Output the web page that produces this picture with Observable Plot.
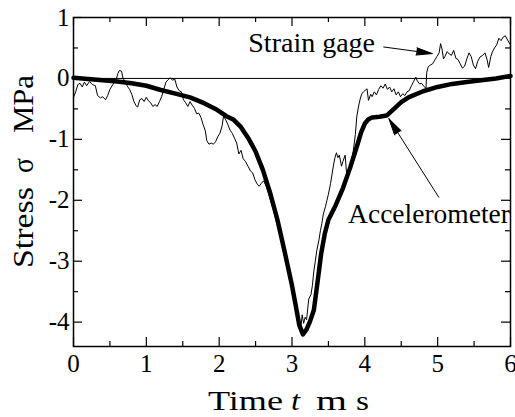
<!DOCTYPE html>
<html>
<head>
<meta charset="utf-8">
<script src="https://cdn.jsdelivr.net/npm/d3@7"></script>
<script src="https://cdn.jsdelivr.net/npm/@observablehq/plot@0.6"></script>
<style>
  html, body { margin: 0; padding: 0; background: #fff; }
  #chart svg { display: block; }
  #chart svg text { font-family: "Liberation Serif", "Times New Roman", Times, serif !important; }
</style>
</head>
<body>
<div id="chart"></div>
<script>
// ---------- data ----------
const accelTime = [0, 0.2, 0.4, 0.6, 0.8, 1.0, 1.2, 1.4, 1.6, 1.8, 1.95, 2.1, 2.2, 2.3, 2.4, 2.5, 2.6, 2.7, 2.8, 2.9,
  3.0, 3.05, 3.1, 3.15, 3.2, 3.25, 3.3, 3.35, 3.4, 3.45, 3.5, 3.6, 3.7, 3.8, 3.9, 3.95, 4.0, 4.05, 4.1, 4.2,
  4.3, 4.4, 4.5, 4.6, 4.8, 5.0, 5.2, 5.4, 5.6, 5.8, 6.0];
const accelStress = [0.01, -0.01, -0.03, -0.05, -0.08, -0.12, -0.19, -0.25, -0.31, -0.41, -0.50, -0.62, -0.68, -0.80, -0.98, -1.20, -1.50, -1.88, -2.32, -2.85,
  -3.40, -3.72, -4.05, -4.20, -4.12, -3.98, -3.80, -3.35, -2.88, -2.55, -2.32, -2.08, -1.80, -1.46, -1.08, -0.88, -0.74, -0.67, -0.64, -0.63,
  -0.61, -0.50, -0.39, -0.31, -0.21, -0.14, -0.09, -0.06, -0.03, 0.00, 0.04];

const gageTime = [0.00, 0.03, 0.06, 0.09, 0.12, 0.15, 0.18, 0.22, 0.26, 0.30, 0.33, 0.37, 0.40, 0.44, 0.47, 0.50, 0.54, 0.58, 0.61, 0.63,
  0.66, 0.68, 0.71, 0.74, 0.77, 0.80, 0.83, 0.86, 0.88, 0.91, 0.94, 0.97, 1.00, 1.03, 1.06, 1.09, 1.12, 1.15, 1.18, 1.21,
  1.24, 1.27, 1.30, 1.33, 1.36, 1.39, 1.42, 1.45, 1.48, 1.51, 1.54, 1.57, 1.60, 1.63, 1.66, 1.69, 1.72, 1.75, 1.78, 1.81,
  1.83, 1.86, 1.89, 1.92, 1.95, 1.98, 2.01, 2.04, 2.06, 2.09, 2.12, 2.15, 2.18, 2.21, 2.24, 2.27, 2.30, 2.33, 2.36, 2.40,
  2.43, 2.46, 2.49, 2.52, 2.55, 2.58, 2.61, 2.65, 2.70, 2.75, 2.80, 2.85, 2.90, 2.95, 3.00, 3.05, 3.09, 3.12, 3.14, 3.16,
  3.18, 3.20, 3.23, 3.26, 3.28, 3.30, 3.32, 3.34, 3.37, 3.39, 3.41, 3.43, 3.46, 3.48, 3.50, 3.53, 3.55, 3.57, 3.59, 3.61,
  3.63, 3.65, 3.68, 3.70, 3.73, 3.75, 3.78, 3.81, 3.84, 3.87, 3.89, 3.92, 3.94, 3.96, 3.98, 4.00, 4.03, 4.05, 4.08, 4.10,
  4.13, 4.16, 4.19, 4.22, 4.25, 4.28, 4.31, 4.34, 4.37, 4.40, 4.43, 4.46, 4.49, 4.52, 4.55, 4.58, 4.61, 4.64, 4.67, 4.70,
  4.72, 4.75, 4.78, 4.81, 4.84, 4.85, 4.87, 4.90, 4.93, 4.96, 4.99, 5.02, 5.04, 5.06, 5.08, 5.10, 5.13, 5.16, 5.19, 5.22,
  5.25, 5.28, 5.31, 5.34, 5.37, 5.40, 5.43, 5.46, 5.49, 5.52, 5.55, 5.58, 5.62, 5.65, 5.68, 5.70, 5.73, 5.75, 5.78, 5.81,
  5.84, 5.87, 5.90, 5.93, 5.96, 6.00];
const gageStress = [-0.31, -0.22, -0.10, -0.08, -0.14, -0.06, -0.12, -0.05, -0.10, -0.12, -0.28, -0.32, -0.30, -0.35, -0.28, -0.18, -0.10, -0.04, 0.08, 0.13,
  0.12, 0.00, -0.05, -0.13, -0.18, -0.26, -0.38, -0.45, -0.47, -0.35, -0.33, -0.38, -0.31, -0.37, -0.40, -0.46, -0.43, -0.46, -0.38, -0.30,
  -0.18, -0.06, -0.02, 0.01, -0.03, -0.01, -0.14, -0.20, -0.22, -0.35, -0.40, -0.46, -0.38, -0.44, -0.49, -0.58, -0.57, -0.64, -0.76, -0.86,
  -1.02, -1.08, -1.06, -1.08, -1.04, -0.96, -0.90, -0.78, -0.62, -0.68, -0.76, -0.85, -0.90, -0.98, -1.06, -1.24, -1.18, -1.32, -1.36, -1.45,
  -1.52, -1.55, -1.66, -1.73, -1.77, -1.72, -1.68, -1.78, -1.98, -2.18, -2.42, -2.62, -2.90, -3.18, -3.45, -3.75, -3.95, -4.10, -3.88, -4.02,
  -3.92, -3.96, -3.62, -3.55, -3.40, -3.16, -3.00, -2.83, -2.65, -2.50, -2.38, -2.23, -2.10, -2.00, -1.90, -1.72, -1.57, -1.42, -1.30, -1.22,
  -1.30, -1.26, -1.44, -1.36, -1.26, -1.57, -1.50, -1.40, -1.20, -0.92, -0.62, -0.42, -0.32, -0.25, -0.22, -0.20, -0.17, -0.36, -0.26, -0.30,
  -0.22, -0.27, -0.18, -0.12, -0.16, -0.09, -0.18, -0.14, -0.22, -0.17, -0.27, -0.22, -0.30, -0.25, -0.28, -0.22, -0.20, -0.12, -0.05, 0.02,
  -0.04, -0.09, -0.08, -0.13, -0.16, 0.10, 0.19, 0.22, 0.24, 0.30, 0.36, 0.42, 0.57, 0.48, 0.32, 0.36, 0.44, 0.40, 0.38, 0.46,
  0.33, 0.31, 0.24, 0.17, 0.20, 0.32, 0.42, 0.36, 0.22, 0.16, 0.28, 0.35, 0.38, 0.42, 0.30, 0.18, 0.36, 0.43, 0.50, 0.55,
  0.66, 0.62, 0.68, 0.70, 0.63, 0.55];

const xMajor = [0, 1, 2, 3, 4, 5, 6];
const xMinor = [0.5, 1.5, 2.5, 3.5, 4.5, 5.5];
const xTickLabels = ["0", "1", "2", "3", "4", "5", "6"];
const yMajor = [1, 0, -1, -2, -3, -4];
const yMinor = [0.5, -0.5, -1.5, -2.5, -3.5];
const yTickLabels = ["1", "0", "-1", "-2", "-3", "-4"];

const labelNames = ["Strain gage", "Accelerometer"];
const labelTime = [2.40, 3.77];
const labelStress = [0.43, -2.38];
const arrowFromTime = [4.26, 5.015];
const arrowFromStress = [0.516, -1.95];
const arrowToTime = [4.925, 4.33];
const arrowToStress = [0.408, -0.66];

// ---------- build tables ----------
const accel = accelTime.map((t, i) => ({t, s: accelStress[i]}));
const gage = gageTime.map((t, i) => ({t, s: gageStress[i]}));
const labels = labelNames.map((name, i) => ({name, t: labelTime[i], s: labelStress[i]}));
const arrows = arrowFromTime.map((t, i) => ({t1: t, s1: arrowFromStress[i], t2: arrowToTime[i], s2: arrowToStress[i]}));

const W = 515, H = 417, mL = 73, mR = 5, mT = 17, mB = 71;
const fw = W - mL - mR, fh = H - mT - mB;
const majorLen = 9, minorLen = 5;

const chart = Plot.plot({
  width: W, height: H,
  marginLeft: mL, marginRight: mR, marginTop: mT, marginBottom: mB,
  x: {domain: [0, 6]},
  y: {domain: [-4.4, 1]},
  style: {background: "white", color: "black"},
  marks: [
    Plot.ruleY([0], {stroke: "black", strokeWidth: 1}),
    Plot.line(gage, {x: "t", y: "s", stroke: "black", strokeWidth: 1, strokeLinejoin: "round"}),
    Plot.line(accel, {x: "t", y: "s", stroke: "black", strokeWidth: 4.5, strokeLinejoin: "round", strokeLinecap: "round"}),
    Plot.frame({stroke: "black", strokeWidth: 1.5}),
    // inward ticks on all four sides
    Plot.ruleX(xMajor, {insetTop: fh - majorLen, stroke: "black", strokeWidth: 1.2}),
    Plot.ruleX(xMajor, {insetBottom: fh - majorLen, stroke: "black", strokeWidth: 1.2}),
    Plot.ruleX(xMinor, {insetTop: fh - minorLen, stroke: "black", strokeWidth: 1.2}),
    Plot.ruleX(xMinor, {insetBottom: fh - minorLen, stroke: "black", strokeWidth: 1.2}),
    Plot.ruleY(yMajor, {insetRight: fw - majorLen, stroke: "black", strokeWidth: 1.2}),
    Plot.ruleY(yMajor, {insetLeft: fw - majorLen, stroke: "black", strokeWidth: 1.2}),
    Plot.ruleY(yMinor, {insetRight: fw - minorLen, stroke: "black", strokeWidth: 1.2}),
    Plot.ruleY(yMinor, {insetLeft: fw - minorLen, stroke: "black", strokeWidth: 1.2}),
    Plot.axisX({ticks: xMajor, tickSize: 0, tickPadding: 8, fontSize: 25,
      tickFormat: d => xTickLabels[xMajor.indexOf(d)], label: null}),
    Plot.axisY({ticks: yMajor, tickSize: 0, tickPadding: 4, fontSize: 25,
      tickFormat: d => yTickLabels[yMajor.indexOf(d)], label: null}),
    Plot.text(labels.slice(0, 1), {x: "t", y: "s", text: "name", textAnchor: "start", lineAnchor: "bottom",
      fontSize: 28, fill: "black"}),
    Plot.text(labels.slice(1), {x: "t", y: "s", text: "name", textAnchor: "start", lineAnchor: "bottom",
      fontSize: 27.5, fill: "black"}),
    Plot.arrow(arrows, {x1: "t1", y1: "s1", x2: "t2", y2: "s2", stroke: "black", fill: "black",
      strokeWidth: 1, headLength: 26, headAngle: 26})
  ]
});

document.getElementById("chart").appendChild(chart);

// axis titles (mixed upright / italic text)
const svg = d3.select(chart);
const gx = svg.append("g").attr("font-size", 27).attr("fill", "black").attr("text-anchor", "start");
[["Time", 208, 75, "normal"], ["t", 291, 9, "italic"], ["m", 316, 31, "normal"], ["s", 356, 13, "normal"]]
  .forEach(([txt, x, len, st]) => {
    gx.append("text").attr("x", x).attr("y", 410).attr("font-style", st).attr("text-anchor", "start")
      .attr("textLength", len).attr("lengthAdjust", "spacingAndGlyphs").text(txt);
  });
const gy = svg.append("g").attr("font-size", 29).attr("fill", "black").attr("text-anchor", "start");
[["Stress", 268, 81], ["σ", 173, 15], ["MPa", 133, 58]].forEach(([txt, y, len]) => {
  gy.append("text").attr("transform", `translate(33,${y}) rotate(-90)`).attr("text-anchor", "start")
    .attr("textLength", len).attr("lengthAdjust", "spacingAndGlyphs").text(txt);
});
svg.selectAll("text").style("font-family", "'Liberation Serif', 'Times New Roman', Times, serif");
</script>
</body>
</html>
